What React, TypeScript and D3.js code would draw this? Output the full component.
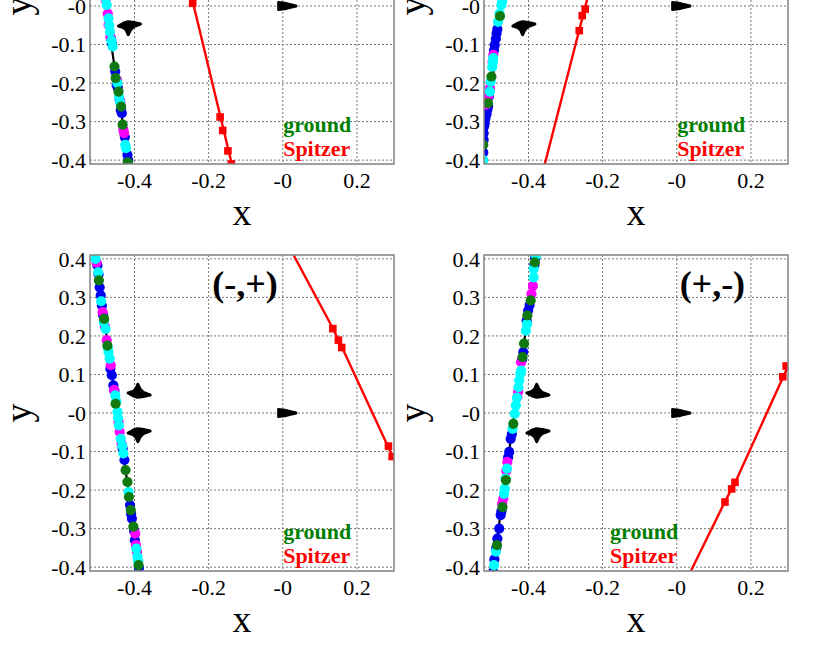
import {line, scaleLinear} from "d3";

type Pt = [number, number];

const X_DOMAIN: Pt = [-0.52, 0.3];
const Y_DOMAIN: Pt = [-0.41, 0.41];
const X_TICKS = [-0.4, -0.2, 0, 0.2];
const X_TICK_LABELS = ["-0.4", "-0.2", "-0", "0.2"];
const Y_TICKS = [0.4, 0.3, 0.2, 0.1, 0, -0.1, -0.2, -0.3, -0.4];
const Y_TICK_LABELS = ["0.4", "0.3", "0.2", "0.1", "-0", "-0.1", "-0.2", "-0.3", "-0.4"];

// caustic outlines (offsets from the planetary caustic tip) and the central one
const PLANETARY_SHAPE: Pt[] = [
  [-0.026, 0.052], [-0.013, 0.056], [-0.005, 0.062], [0, 0.074], [0.006, 0.062],
  [0.015, 0.053], [0.033, 0.047], [0.015, 0.043], [0, 0.041], [-0.013, 0.045]
];
const CENTRAL_SHAPE: Pt[] = [
  [-0.012, 0.01], [0.01, 0.007], [0.036, 0.001], [0.036, -0.001], [0.01, -0.007], [-0.012, -0.01]
];

// top-left panel
const TL_CAUSTIC_X = -0.417;
const TL_GROUND_LINE: Pt[] = [[-0.49, 0.08], [-0.414, -0.42]];
const TL_BLUE: Pt[] = [[-0.463, -0.085], [-0.461, -0.097], [-0.452, -0.17], [-0.448, -0.205], [-0.445, -0.212], [-0.44, -0.244], [-0.437, -0.27], [-0.434, -0.278], [-0.426, -0.34], [-0.419, -0.386], [-0.417, -0.4]];
const TL_MAGENTA: Pt[] = [[-0.478, 0.016], [-0.472, -0.02], [-0.47, -0.049], [-0.465, -0.08], [-0.447, -0.192], [-0.438, -0.25], [-0.43, -0.321], [-0.428, -0.33]];
const TL_CYAN: Pt[] = [[-0.478, 0.02], [-0.475, 0.003], [-0.47, -0.032], [-0.468, -0.05], [-0.466, -0.067], [-0.462, -0.09], [-0.459, -0.105], [-0.446, -0.2], [-0.442, -0.235], [-0.439, -0.25], [-0.425, -0.36], [-0.423, -0.369]];
const TL_GREEN: Pt[] = [[-0.454, -0.157], [-0.451, -0.187], [-0.443, -0.222], [-0.436, -0.261], [-0.432, -0.308], [-0.418, -0.406]];
const TL_SPITZER_LINE: Pt[] = [[-0.265, 0.1], [-0.135, -0.42]];
const TL_SPITZER: Pt[] = [[-0.243, 0.007], [-0.169, -0.288], [-0.162, -0.323], [-0.148, -0.376], [-0.139, -0.41]];

// top-right panel
const TR_CAUSTIC_X = -0.416;
const TR_GROUND_LINE: Pt[] = [[-0.462, 0.08], [-0.526, -0.42]];
const TR_BLUE: Pt[] = [[-0.484, -0.06], [-0.486, -0.071], [-0.488, -0.085], [-0.491, -0.101], [-0.493, -0.115], [-0.507, -0.235], [-0.509, -0.26], [-0.511, -0.269], [-0.513, -0.28], [-0.516, -0.291], [-0.518, -0.305], [-0.52, -0.313], [-0.521, -0.33], [-0.521, -0.347], [-0.522, -0.38]];
const TR_MAGENTA: Pt[] = [[-0.495, -0.127], [-0.497, -0.145], [-0.504, -0.213], [-0.508, -0.232], [-0.514, -0.256]];
const TR_CYAN: Pt[] = [[-0.471, 0.012], [-0.473, 0.003], [-0.478, -0.02], [-0.482, -0.041], [-0.495, -0.135], [-0.496, -0.145], [-0.498, -0.158], [-0.502, -0.196], [-0.504, -0.222], [-0.522, -0.4]];
const TR_GREEN: Pt[] = [[-0.477, -0.026], [-0.5, -0.183], [-0.509, -0.252], [-0.522, -0.36]];
const TR_SPITZER_LINE: Pt[] = [[-0.356, -0.41], [-0.225, 0.08]];
const TR_SPITZER: Pt[] = [[-0.263, -0.064], [-0.255, -0.025], [-0.247, -0.008]];

// bottom-left panel (-,+)
const BL_CAUSTIC_X = -0.391;
const BL_GROUND_LINE: Pt[] = [[-0.508, 0.42], [-0.384, -0.42]];
const BL_BLUE: Pt[] = [[-0.5, 0.383], [-0.497, 0.36], [-0.494, 0.326], [-0.491, 0.305], [-0.488, 0.279], [-0.485, 0.255], [-0.465, 0.115], [-0.461, 0.098], [-0.457, 0.072], [-0.454, 0.058], [-0.432, -0.092], [-0.427, -0.122], [-0.412, -0.239], [-0.409, -0.262], [-0.407, -0.274], [-0.401, -0.306], [-0.399, -0.33], [-0.388, -0.402]];
const BL_MAGENTA: Pt[] = [[-0.502, 0.39], [-0.486, 0.262], [-0.48, 0.225], [-0.475, 0.189], [-0.464, 0.124], [-0.455, 0.06], [-0.443, -0.023], [-0.44, -0.049], [-0.435, -0.08], [-0.398, -0.313], [-0.396, -0.343], [-0.393, -0.36]];
const BL_CYAN: Pt[] = [[-0.505, 0.4], [-0.498, 0.365], [-0.49, 0.29], [-0.483, 0.236], [-0.478, 0.218], [-0.472, 0.17], [-0.47, 0.158], [-0.467, 0.141], [-0.452, 0.046], [-0.449, 0.03], [-0.446, 0.003], [-0.444, -0.013], [-0.442, -0.032], [-0.437, -0.067], [-0.433, -0.085], [-0.43, -0.105], [-0.416, -0.205], [-0.395, -0.352], [-0.392, -0.373], [-0.39, -0.385]];
const BL_GREEN: Pt[] = [[-0.496, 0.344], [-0.482, 0.244], [-0.473, 0.175], [-0.451, 0.024], [-0.424, -0.148], [-0.419, -0.179], [-0.415, -0.218], [-0.41, -0.252], [-0.403, -0.295], [-0.389, -0.395]];
const BL_SPITZER_LINE: Pt[] = [[0.029, 0.41], [0.135, 0.22], [0.16, 0.17], [0.29, -0.1], [0.305, -0.13]];
const BL_SPITZER: Pt[] = [[0.135, 0.219], [0.15, 0.189], [0.159, 0.17], [0.285, -0.086], [0.295, -0.113]];

// bottom-right panel (+,-)
const BR_CAUSTIC_X = -0.378;
const BR_GROUND_LINE: Pt[] = [[-0.378, 0.42], [-0.498, -0.42]];
const BR_BLUE: Pt[] = [[-0.382, 0.402], [-0.384, 0.385], [-0.397, 0.28], [-0.401, 0.266], [-0.405, 0.24], [-0.414, 0.158], [-0.417, 0.14], [-0.445, -0.055], [-0.448, -0.067], [-0.452, -0.101], [-0.455, -0.115], [-0.473, -0.255], [-0.475, -0.265], [-0.479, -0.3], [-0.484, -0.326], [-0.487, -0.35], [-0.492, -0.38], [-0.495, -0.412]];
const BR_MAGENTA: Pt[] = [[-0.388, 0.33], [-0.392, 0.309], [-0.42, 0.132], [-0.428, 0.055], [-0.43, 0.041], [-0.457, -0.127], [-0.46, -0.15], [-0.468, -0.222], [-0.471, -0.235]];
const BR_CYAN: Pt[] = [[-0.38, 0.409], [-0.386, 0.374], [-0.386, 0.352], [-0.404, 0.231], [-0.407, 0.214], [-0.42, 0.11], [-0.422, 0.102], [-0.425, 0.085], [-0.427, 0.067], [-0.431, 0.04], [-0.434, 0.02], [-0.437, -0.002], [-0.443, -0.041], [-0.458, -0.144], [-0.462, -0.17], [-0.464, -0.196], [-0.466, -0.21], [-0.488, -0.36], [-0.493, -0.395]];
const BR_GREEN: Pt[] = [[-0.383, 0.391], [-0.394, 0.292], [-0.403, 0.253], [-0.412, 0.18], [-0.416, 0.145], [-0.441, -0.028], [-0.461, -0.174], [-0.47, -0.244], [-0.485, -0.343]];
const BR_SPITZER_LINE: Pt[] = [[0.038, -0.41], [0.13, -0.23], [0.16, -0.175], [0.29, 0.1], [0.31, 0.14]];
const BR_SPITZER: Pt[] = [[0.13, -0.231], [0.148, -0.197], [0.157, -0.18], [0.286, 0.094], [0.295, 0.122]];

const BLUE = "#0000ee";
const MAGENTA = "#ff00ff";
const CYAN = "#00ffff";
const GREEN = "#107a10";
const RED = "#ff0000";
const FONT = "'Liberation Serif', 'Times New Roman', serif";

const PLOT_W = 304;
const PLOT_H = 316;

type Panel = {
  key: string;
  left: number;
  top: number;
  causticX: number;
  groundLine: Pt[];
  blue: Pt[];
  magenta: Pt[];
  cyan: Pt[];
  green: Pt[];
  spitzerLine: Pt[];
  spitzer: Pt[];
  label: string | null;
  labelAt: Pt;
  legendX: number;
};

const PANELS: Panel[] = [
  {key: "tl", left: 90, top: -152, causticX: TL_CAUSTIC_X, groundLine: TL_GROUND_LINE, blue: TL_BLUE, magenta: TL_MAGENTA, cyan: TL_CYAN, green: TL_GREEN, spitzerLine: TL_SPITZER_LINE, spitzer: TL_SPITZER, label: null, labelAt: [0, 0], legendX: 0.001},
  {key: "tr", left: 484, top: -152, causticX: TR_CAUSTIC_X, groundLine: TR_GROUND_LINE, blue: TR_BLUE, magenta: TR_MAGENTA, cyan: TR_CYAN, green: TR_GREEN, spitzerLine: TR_SPITZER_LINE, spitzer: TR_SPITZER, label: null, labelAt: [0, 0], legendX: 0.001},
  {key: "bl", left: 90, top: 255, causticX: BL_CAUSTIC_X, groundLine: BL_GROUND_LINE, blue: BL_BLUE, magenta: BL_MAGENTA, cyan: BL_CYAN, green: BL_GREEN, spitzerLine: BL_SPITZER_LINE, spitzer: BL_SPITZER, label: "(-,+)", labelAt: [-0.102, 0.303], legendX: 0.001},
  {key: "br", left: 484, top: 255, causticX: BR_CAUSTIC_X, groundLine: BR_GROUND_LINE, blue: BR_BLUE, magenta: BR_MAGENTA, cyan: BR_CYAN, green: BR_GREEN, spitzerLine: BR_SPITZER_LINE, spitzer: BR_SPITZER, label: "(+,-)", labelAt: [0.096, 0.303], legendX: -0.18}
];

export default function App() {
  return (
    <svg
      width={830}
      height={651}
      viewBox="0 0 830 651"
      style={{position: "absolute", left: 0, top: 0, background: "#fff"}}
    >
      {PANELS.map((panel) => (
        <PanelView key={panel.key} panel={panel} />
      ))}
    </svg>
  );
}

function PanelView({panel}: {panel: Panel}) {
  const x = scaleLinear().domain(X_DOMAIN).range([0, PLOT_W]);
  const y = scaleLinear().domain(Y_DOMAIN).range([PLOT_H, 0]);
  const path = line<Pt>()
    .x((d) => x(d[0]))
    .y((d) => y(d[1]));
  const clipId = `clip-${panel.key}`;

  const upper = PLANETARY_SHAPE.map(([dx, dy]) => [panel.causticX + dx, dy] as Pt);
  const lower = PLANETARY_SHAPE.map(([dx, dy]) => [panel.causticX + dx, -dy] as Pt);

  const dots = [
    {color: BLUE, points: panel.blue},
    {color: MAGENTA, points: panel.magenta},
    {color: CYAN, points: panel.cyan},
    {color: GREEN, points: panel.green}
  ];

  // only tick labels that land inside the page
  const yLabels = Y_TICKS.map((tick, i) => ({tick, label: Y_TICK_LABELS[i]})).filter(
    ({tick}) => panel.top + y(tick) > 0
  );

  return (
    <g transform={`translate(${panel.left},${panel.top})`} fontFamily={FONT}>
      <defs>
        <clipPath id={clipId}>
          <rect x={0} y={0} width={PLOT_W} height={PLOT_H} />
        </clipPath>
      </defs>

      {X_TICKS.map((tick) => (
        <line key={`gx${tick}`} x1={x(tick)} x2={x(tick)} y1={0} y2={PLOT_H} stroke="#777" strokeWidth={1} strokeDasharray="2,2" />
      ))}
      {Y_TICKS.map((tick) => (
        <line key={`gy${tick}`} x1={0} x2={PLOT_W} y1={y(tick)} y2={y(tick)} stroke="#777" strokeWidth={1} strokeDasharray="2,2" />
      ))}

      <g clipPath={`url(#${clipId})`}>
        {[upper, lower].map((shape, i) => (
          <path key={`c${i}`} d={(path(shape) ?? "") + "Z"} fill="#000" stroke="#000" strokeWidth={3.2} strokeLinejoin="round" />
        ))}
        <path d={(path(CENTRAL_SHAPE) ?? "") + "Z"} fill="#000" stroke="#000" strokeWidth={2.4} strokeLinejoin="round" />

        <path d={path(panel.groundLine) ?? ""} fill="none" stroke="#000" strokeWidth={2.2} />
        {dots.map((series) =>
          series.points.map((d, i) => (
            <circle key={`${series.color}-${i}`} cx={x(d[0])} cy={y(d[1])} r={5.1} fill={series.color} />
          ))
        )}

        <path d={path(panel.spitzerLine) ?? ""} fill="none" stroke={RED} strokeWidth={2.4} />
        {panel.spitzer.map((d, i) => (
          <rect key={`s${i}`} x={x(d[0]) - 3.8} y={y(d[1]) - 3.8} width={7.6} height={7.6} fill={RED} />
        ))}
      </g>

      <text x={x(panel.legendX)} y={y(-0.327)} fontSize={22} fontWeight="bold" fill="#008000">ground</text>
      <text x={x(panel.legendX)} y={y(-0.39)} fontSize={22} fontWeight="bold" fill={RED}>Spitzer</text>

      {panel.label ? (
        <text x={x(panel.labelAt[0])} y={y(panel.labelAt[1])} fontSize={36} fontWeight="bold" textAnchor="middle">
          {panel.label}
        </text>
      ) : null}

      <rect x={0} y={0} width={PLOT_W} height={PLOT_H} fill="none" stroke="#888" strokeWidth={1.6} />

      {X_TICKS.map((tick, i) => (
        <text key={`xl${tick}`} x={x(tick)} y={PLOT_H + 24} fontSize={22} textAnchor="middle">
          {X_TICK_LABELS[i]}
        </text>
      ))}
      {yLabels.map(({tick, label}) => (
        <text key={`yl${tick}`} x={-4} y={y(tick)} dy="0.35em" fontSize={22} textAnchor="end">
          {label}
        </text>
      ))}

      <text x={PLOT_W / 2} y={PLOT_H + 61} fontSize={38} textAnchor="middle">x</text>
      <text transform={`translate(-59,${PLOT_H / 2}) rotate(-90)`} fontSize={38} textAnchor="middle">y</text>
    </g>
  );
}
